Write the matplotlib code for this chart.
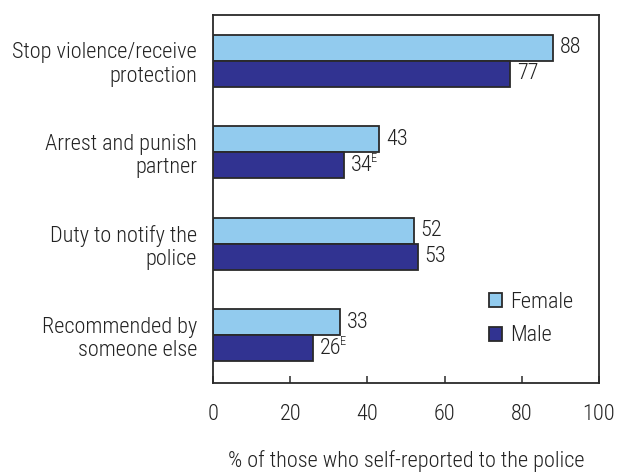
import matplotlib
matplotlib.use("Agg")
import matplotlib.pyplot as plt
import numpy as np

plt.rcParams['font.family'] = ['Roboto Condensed', 'DejaVu Sans']
plt.rcParams['font.weight'] = 'light'
plt.rcParams['axes.labelweight'] = 'light'

categories = ["Stop violence/receive\nprotection", "Arrest and punish\npartner",
              "Duty to notify the\npolice", "Recommended by\nsomeone else"]
female = [88, 43, 52, 33]
male = [77, 34, 53, 26]
female_flags = ["", "", "", ""]
male_flags = ["", "E", "", "E"]
xticks = [0, 20, 40, 60, 80, 100]
xlabel = "% of those who self-reported to the police"

fig = plt.figure(figsize=(6.17, 4.73), dpi=100)
ax = fig.add_axes([213/617, 1 - 383/473, (599-213)/617, (383-15)/473])

y = np.arange(len(categories))
h = 0.284
fc = "#92CBEE"
mc = "#313391"
ec = "#2a2a2a"
ax.barh(y - h/2, female, height=h, color=fc, edgecolor=ec, linewidth=1.3, label="Female")
ax.barh(y + h/2, male, height=h, color=mc, edgecolor=ec, linewidth=1.3, label="Male")

fs = 16
tc = "#222222"
labels = []
for yi, v, f in zip(y - h/2, female, female_flags):
    labels.append((ax.annotate(str(v), (v, yi), xytext=(5, 0), textcoords="offset points",
                               va="center", ha="left", fontsize=fs, color=tc), f))
for yi, v, f in zip(y + h/2, male, male_flags):
    labels.append((ax.annotate(str(v), (v, yi), xytext=(5, 0), textcoords="offset points",
                               va="center", ha="left", fontsize=fs, color=tc), f))

ax.set_xlim(0, 100)
ax.set_ylim(3.52, -0.5)
ax.set_xticks(xticks)
ax.set_xticklabels([str(t) for t in xticks], fontsize=fs, color=tc)
ax.tick_params(axis="x", direction="in", length=5, pad=15, width=1.1, color=ec)
ax.set_yticks(y)
ax.set_yticklabels(categories, fontsize=fs, linespacing=1.15, color=tc)
ax.tick_params(axis="y", length=0, pad=11.5)
ax.set_xlabel(xlabel, fontsize=fs, labelpad=18, color=tc, fontweight="light")
for s in ax.spines.values():
    s.set_linewidth(1.3)
    s.set_color(ec)

ax.legend(loc="lower right", bbox_to_anchor=(0.985, 0.045), frameon=False, fontsize=fs,
          handlelength=0.6, handleheight=0.6, handletextpad=0.35, labelspacing=0.55,
          labelcolor=tc)

fig.canvas.draw()
r = fig.canvas.get_renderer()
inv = fig.transFigure.inverted()
for t, f in labels:
    if f:
        bb = t.get_window_extent(r)
        x0, y0 = inv.transform((bb.x1 - 1.5, bb.y1 + 2.5))
        fig.text(x0, y0, f, fontsize=9, va="top", ha="left", color=tc)

fig.savefig("out.png", dpi=100)
